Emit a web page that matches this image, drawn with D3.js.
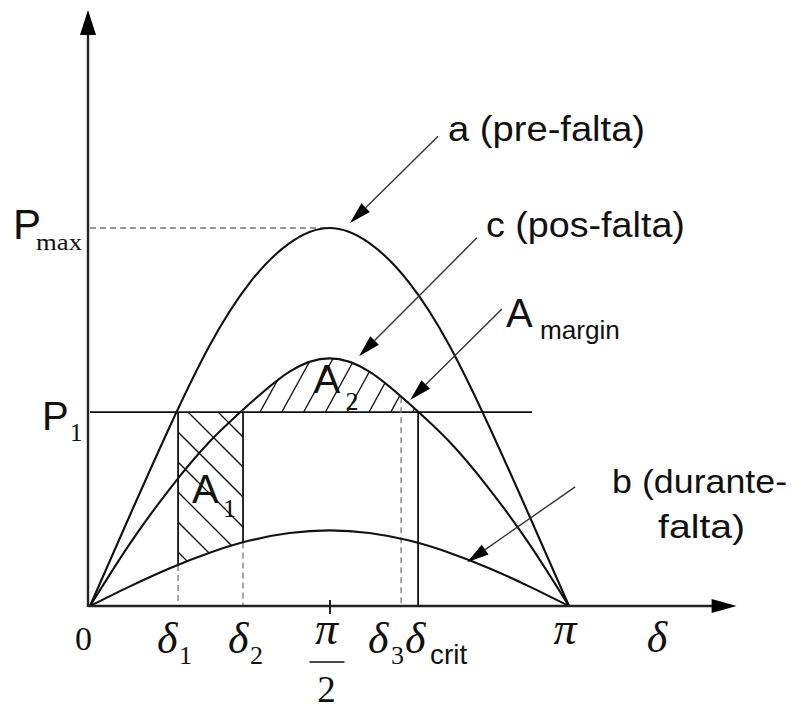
<!DOCTYPE html>
<html>
<head>
<meta charset="utf-8">
<script src="https://cdn.jsdelivr.net/npm/d3@7"></script>
<style>
  body { margin: 0; background: #fff; }
  svg { display: block; }
</style>
</head>
<body>
<svg id="chart" width="801" height="713"></svg>
<script>
// Power–angle curves used in the equal-area stability criterion (angles in degrees)
const deltaDeg    = [0, 15, 30, 45, 60, 75, 90, 105, 120, 135, 150, 165, 180];
const preFault    = [0, 0.24, 0.475, 0.69, 0.855, 0.96, 1.0, 0.96, 0.855, 0.69, 0.475, 0.24, 0];
const postFault   = [0, 0.165, 0.31, 0.435, 0.535, 0.62, 0.655, 0.62, 0.535, 0.435, 0.31, 0.165, 0];
const duringFault = [0, 0.052, 0.10, 0.141, 0.173, 0.193, 0.20, 0.193, 0.173, 0.141, 0.10, 0.052, 0];

const pMax = 1.0;
const p1 = 0.513;
const delta1 = 33.1, delta2 = 57.5, delta3 = 116.9, deltaCrit = 123.3;
const halfPi = 90, pi = 180;
const xAxisEnd = 243, yAxisEnd = 1.577;

// annotation arrows: [tailDeg, tailP, tipDeg, tipP]
const arrowA      = [130.8, 1.243, 97.7, 1.013];
const arrowC      = [145.4, 0.974, 101.1, 0.661];
const arrowMargin = [154.8, 0.786, 120.3, 0.545];
const arrowB      = [182.3, 0.315, 141.7, 0.116];

const svg = d3.select("#chart");
const x = d3.scaleLinear().domain([0, 180]).range([90, 569]);
const y = d3.scaleLinear().domain([0, 1]).range([606, 228]);

const rows = (vals) => deltaDeg.map((d, i) => ({ d, p: vals[i] }));
const a = rows(preFault), b = rows(duringFault), c = rows(postFault);

const curve = d3.curveNatural;
const line = d3.line().x(r => x(r.d)).y(r => y(r.p)).curve(curve);

// ---------- clip regions for hatching ----------
const defs = svg.append("defs");
defs.append("clipPath").attr("id", "aboveB")
  .append("path")
  .attr("d", d3.area().x(r => x(r.d)).y0(0).y1(r => y(r.p)).curve(curve)(b));
defs.append("clipPath").attr("id", "rectA1")
  .append("rect")
  .attr("x", x(delta1)).attr("y", y(p1))
  .attr("width", x(delta2) - x(delta1)).attr("height", y(0) - y(p1));
defs.append("clipPath").attr("id", "underC")
  .append("path")
  .attr("d", d3.area().x(r => x(r.d)).y0(y(0)).y1(r => y(r.p)).curve(curve)(c));
defs.append("clipPath").attr("id", "aboveP1")
  .append("rect")
  .attr("x", x(0)).attr("y", 0)
  .attr("width", x(180) - x(0)).attr("height", y(p1));

// A1 hatching: "\" lines at 45°
const hA1 = svg.append("g").attr("clip-path", "url(#rectA1)")
  .append("g").attr("clip-path", "url(#aboveB)");
for (let k = -4; k < 14; k++) {
  const cst = 194 + 30 * k;          // y - x intercept
  hA1.append("line")
    .attr("x1", 100).attr("y1", 100 + cst)
    .attr("x2", 400).attr("y2", 400 + cst)
    .attr("stroke", "#111").attr("stroke-width", 1.3);
}

// A2 hatching: "/" steep lines
const hA2 = svg.append("g").attr("clip-path", "url(#aboveP1)")
  .append("g").attr("clip-path", "url(#underC)");
for (let k = -2; k < 10; k++) {
  const x0 = 260 + 21.8 * k;
  hA2.append("line")
    .attr("x1", x0).attr("y1", y(p1))
    .attr("x2", x0 + 0.55 * 120).attr("y2", y(p1) - 120)
    .attr("stroke", "#111").attr("stroke-width", 1.3);
}

// ---------- reference lines ----------
const dash = "6,4";
const gray = "#777";
// Pmax dashed
svg.append("line")
  .attr("x1", x(0)).attr("x2", x(halfPi))
  .attr("y1", y(pMax)).attr("y2", y(pMax))
  .attr("stroke", gray).attr("stroke-width", 1.3).attr("stroke-dasharray", dash);
// P1 line
svg.append("line")
  .attr("x1", x(0)).attr("x2", 532)
  .attr("y1", y(p1)).attr("y2", y(p1))
  .attr("stroke", "#111").attr("stroke-width", 1.8);

// value of a sampled curve at an angle (linear between samples, for line ends)
function valAt(rowsArr, d) {
  const i = d3.bisector(r => r.d).right(rowsArr, d) - 1;
  const r0 = rowsArr[i], r1 = rowsArr[i + 1];
  return r0.p + (r1.p - r0.p) * (d - r0.d) / (r1.d - r0.d);
}

// δ1 and δ2 verticals: solid over A1, dashed below curve b
[delta1, delta2].forEach(d => {
  const yb = y(valAt(b, d));
  svg.append("line").attr("x1", x(d)).attr("x2", x(d))
    .attr("y1", y(p1)).attr("y2", yb)
    .attr("stroke", "#111").attr("stroke-width", 1.8);
  svg.append("line").attr("x1", x(d)).attr("x2", x(d))
    .attr("y1", yb).attr("y2", y(0))
    .attr("stroke", gray).attr("stroke-width", 1.3).attr("stroke-dasharray", dash);
});
// δ3 dashed
svg.append("line").attr("x1", x(delta3)).attr("x2", x(delta3))
  .attr("y1", y(valAt(c, delta3))).attr("y2", y(0))
  .attr("stroke", gray).attr("stroke-width", 1.3).attr("stroke-dasharray", dash);
// δcrit solid
svg.append("line").attr("x1", x(deltaCrit)).attr("x2", x(deltaCrit))
  .attr("y1", y(p1)).attr("y2", y(0))
  .attr("stroke", "#111").attr("stroke-width", 1.8);

// ---------- curves ----------
[a, c, b].forEach(rs => {
  svg.append("path").attr("d", line(rs))
    .attr("fill", "none").attr("stroke", "#111").attr("stroke-width", 2.1);
});

// ---------- axes ----------
const axisColor = "#222";
svg.append("line")
  .attr("x1", x(0) - 2).attr("x2", x(xAxisEnd) - 24)
  .attr("y1", y(0)).attr("y2", y(0))
  .attr("stroke", axisColor).attr("stroke-width", 2.4);
svg.append("path")
  .attr("d", `M${x(xAxisEnd)},${y(0)} L${x(xAxisEnd) - 25},${y(0) - 7} L${x(xAxisEnd) - 25},${y(0) + 7} Z`)
  .attr("fill", "#000");
svg.append("line")
  .attr("x1", x(0) - 2).attr("x2", x(0) - 2)
  .attr("y1", y(0) + 1).attr("y2", y(yAxisEnd) + 24)
  .attr("stroke", axisColor).attr("stroke-width", 2.4);
svg.append("path")
  .attr("d", `M${x(0) - 2},${y(yAxisEnd)} L${x(0) - 10},${y(yAxisEnd) + 25} L${x(0) + 6},${y(yAxisEnd) + 25} Z`)
  .attr("fill", "#000");

// π/2 tick
const ax = svg.append("g").attr("transform", `translate(0,${y(0)})`)
  .call(d3.axisBottom(x).tickValues([halfPi]).tickSize(8).tickFormat(""));
ax.select(".domain").remove();
ax.selectAll(".tick line").attr("y1", -6).attr("stroke", axisColor).attr("stroke-width", 2);

// ---------- annotation arrows ----------
function arrow(spec) {
  const [td, tp, hd, hp] = spec;
  const x1 = x(td), y1 = y(tp), x2 = x(hd), y2 = y(hp);
  const ang = Math.atan2(y2 - y1, x2 - x1);
  const L = 22, W = 6;
  const bx = x2 - L * Math.cos(ang), by = y2 - L * Math.sin(ang);
  svg.append("line").attr("x1", x1).attr("y1", y1).attr("x2", bx).attr("y2", by)
    .attr("stroke", "#333").attr("stroke-width", 1.4);
  const px = -Math.sin(ang) * W, py = Math.cos(ang) * W;
  svg.append("path")
    .attr("d", `M${x2},${y2} L${bx + px},${by + py} L${bx - px},${by - py} Z`)
    .attr("fill", "#000");
}
[arrowA, arrowC, arrowMargin, arrowB].forEach(arrow);

// ---------- text ----------
const sans = "'Liberation Sans', Arial, sans-serif";
const serif = "'Liberation Serif', 'Times New Roman', serif";
function txt(s, px, py, font, size, opts = {}) {
  const t = svg.append("text").attr("x", px).attr("y", py)
    .attr("font-family", font).attr("font-size", size).attr("fill", "#111")
    .text(s);
  if (opts.italic) t.attr("font-style", "italic");
  if (opts.anchor) t.attr("text-anchor", opts.anchor);
  if (opts.len) t.attr("textLength", opts.len).attr("lengthAdjust", "spacingAndGlyphs");
  return t;
}

// curve labels
txt("a (pre-falta)", x(arrowA[0]) + 10, y(arrowA[1]) + 5, sans, 35, { len: 197 });
txt("c (pos-falta)", x(arrowC[0]) + 9, y(arrowC[1]) - 1, sans, 35, { len: 199 });
txt("A", x(arrowMargin[0]) + 4, y(arrowMargin[1]) + 18, sans, 40);
txt("margin", x(arrowMargin[0]) + 38, y(arrowMargin[1]) + 30, sans, 26, { len: 80 });
txt("b (durante-", x(arrowB[0]) + 37, y(arrowB[1]) + 6, sans, 33, { len: 175 });
txt("falta)", x(arrowB[0]) + 83, y(arrowB[1]) + 51, sans, 33, { len: 87 });

// area labels
txt("A", x(delta1) + 14, y(p1) + 91, sans, 40);
txt("1", x(delta1) + 45, y(p1) + 105, serif, 26);
txt("A", (x(delta2) + x(deltaCrit)) / 2 - 17, y(p1) - 19, sans, 40);
txt("2", (x(delta2) + x(deltaCrit)) / 2 + 15, y(p1) - 2, serif, 26);

// y labels
txt("P", x(0) - 77, y(pMax) + 11, sans, 42);
txt("max", x(0) - 54, y(pMax) + 22, serif, 24, { len: 46 });
txt("P", x(0) - 48, y(p1) + 18, sans, 40);
txt("1", x(0) - 20, y(p1) + 29, serif, 25);

// x labels
const xl = y(0) + 47;
txt("0", x(0) - 15, y(0) + 44, serif, 34);
txt("\u03b4", x(delta1) - 21, xl, serif, 44, { italic: true });
txt("1", x(delta1) + 1, xl + 11, serif, 26);
txt("\u03b4", x(delta2) - 15, xl, serif, 44, { italic: true });
txt("2", x(delta2) + 7, xl + 11, serif, 26);
txt("\u03c0", x(halfPi) - 3, y(0) + 38, serif, 46, { italic: true, anchor: "middle" });
svg.append("line")
  .attr("x1", x(halfPi) - 20).attr("x2", x(halfPi) + 15)
  .attr("y1", y(0) + 56).attr("y2", y(0) + 56)
  .attr("stroke", "#111").attr("stroke-width", 1.6);
txt("2", x(halfPi) - 3, y(0) + 96, serif, 37, { anchor: "middle" });
txt("\u03b4", x(delta3) - 33, xl, serif, 44, { italic: true });
txt("3", x(delta3) - 10, xl + 11, serif, 26);
txt("\u03b4", x(deltaCrit) - 13, xl, serif, 44, { italic: true });
txt("crit", x(deltaCrit) + 12, xl + 11, sans, 28, { len: 37 });
txt("\u03c0", x(pi) - 4, y(0) + 38, serif, 46, { italic: true, anchor: "middle" });
txt("\u03b4", x(xAxisEnd) - 90, y(0) + 46, serif, 44, { italic: true });
</script>
</body>
</html>
